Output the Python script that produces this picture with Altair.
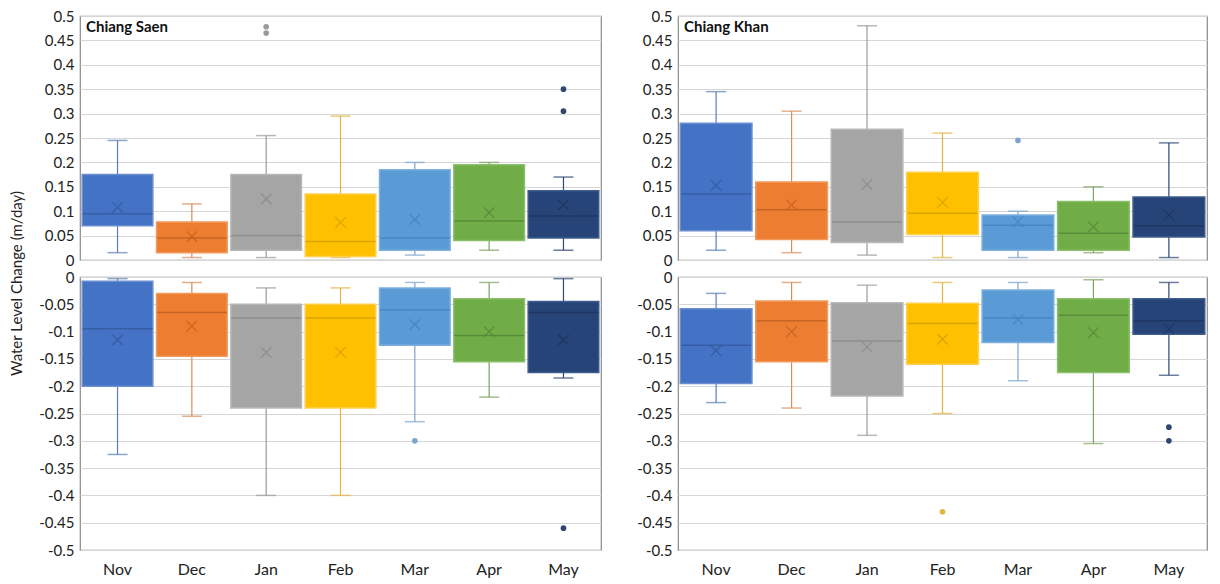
import altair as alt
import pandas as pd

months = ["Nov", "Dec", "Jan", "Feb", "Mar", "Apr", "May"]
box_colors = ["#4472C4", "#ED7D31", "#A5A5A5", "#FFC000", "#5B9BD5", "#70AD47", "#264478"]
edge_colors = ["#6A8ED0", "#F29A5C", "#B8B8B8", "#FFCF4D", "#7DB0DE", "#8BBE6A", "#3F5C8F"]
dark_colors = ["#2F5597", "#B85A1C", "#858585", "#C99A00", "#3F7FBF", "#507F33", "#1B3157"]
whisker_colors = ["#5A7DB5", "#D98E5A", "#9A9A9A", "#E3B440", "#7EA4CC", "#7AA35E", "#2E4670"]

# Chiang Saen - rising (top left)
cs_up_q1 = [0.070, 0.015, 0.020, 0.007, 0.020, 0.040, 0.045]
cs_up_q3 = [0.175, 0.078, 0.175, 0.135, 0.185, 0.195, 0.142]
cs_up_med = [0.095, 0.045, 0.050, 0.038, 0.045, 0.080, 0.090]
cs_up_mean = [0.108, 0.048, 0.125, 0.077, 0.083, 0.097, 0.113]
cs_up_lo = [0.015, 0.005, 0.005, 0.005, 0.010, 0.020, 0.020]
cs_up_hi = [0.245, 0.115, 0.255, 0.295, 0.200, 0.200, 0.170]
cs_up_out_m = ["Jan", "Jan", "May", "May"]
cs_up_out_v = [0.465, 0.478, 0.305, 0.350]

# Chiang Saen - falling (bottom left)
cs_dn_q1 = [-0.200, -0.145, -0.240, -0.240, -0.125, -0.155, -0.175]
cs_dn_q3 = [-0.008, -0.030, -0.050, -0.050, -0.020, -0.040, -0.045]
cs_dn_med = [-0.095, -0.065, -0.075, -0.075, -0.060, -0.107, -0.065]
cs_dn_mean = [-0.115, -0.090, -0.138, -0.138, -0.087, -0.100, -0.115]
cs_dn_lo = [-0.325, -0.255, -0.400, -0.400, -0.265, -0.220, -0.185]
cs_dn_hi = [-0.003, -0.010, -0.020, -0.020, -0.010, -0.010, -0.003]
cs_dn_out_m = ["Mar", "May"]
cs_dn_out_v = [-0.300, -0.460]

# Chiang Khan - rising (top right)
ck_up_q1 = [0.060, 0.042, 0.036, 0.052, 0.020, 0.020, 0.047]
ck_up_q3 = [0.280, 0.160, 0.268, 0.180, 0.092, 0.120, 0.129]
ck_up_med = [0.135, 0.103, 0.078, 0.096, 0.071, 0.055, 0.070]
ck_up_mean = [0.153, 0.113, 0.155, 0.118, 0.078, 0.068, 0.092]
ck_up_lo = [0.020, 0.015, 0.010, 0.005, 0.005, 0.015, 0.005]
ck_up_hi = [0.345, 0.305, 0.480, 0.260, 0.100, 0.150, 0.240]
ck_up_out_m = ["Mar"]
ck_up_out_v = [0.245]

# Chiang Khan - falling (bottom right)
ck_dn_q1 = [-0.195, -0.155, -0.218, -0.160, -0.120, -0.175, -0.105]
ck_dn_q3 = [-0.058, -0.044, -0.047, -0.048, -0.024, -0.040, -0.040]
ck_dn_med = [-0.125, -0.080, -0.117, -0.085, -0.075, -0.070, -0.080]
ck_dn_mean = [-0.135, -0.100, -0.128, -0.114, -0.078, -0.102, -0.095]
ck_dn_lo = [-0.230, -0.240, -0.290, -0.250, -0.190, -0.305, -0.180]
ck_dn_hi = [-0.030, -0.010, -0.015, -0.010, -0.010, -0.005, -0.010]
ck_dn_out_m = ["Feb", "May", "May"]
ck_dn_out_v = [-0.430, -0.275, -0.300]

FONT = "Lato"
up_ticks = [round(i * 0.05, 2) for i in range(11)]
dn_ticks = [round(-i * 0.05, 2) for i in range(11)]


def scale_c(rng):
    return alt.Scale(domain=months, range=rng)


def panel(q1, q3, med, mean, lo, hi, out_m, out_v, domain, ticks,
          width, height, show_x, name=None, ytitle=False):
    df = pd.DataFrame({"m": months, "q1": q1, "q3": q3, "med": med,
                       "mean": mean, "lo": lo, "hi": hi})
    odf = pd.DataFrame({"m": out_m, "v": out_v})
    xscale = alt.Scale(domain=months, paddingInner=0.05, paddingOuter=0.03)
    if show_x:
        xaxis = alt.Axis(title=None, labelAngle=0, domain=False, ticks=False, grid=False,
                         labelFontSize=16, labelPadding=11, labelColor="#222", labelFont=FONT)
    else:
        xaxis = None
    yaxis_kwargs = dict(values=ticks, tickCount=11,
                        labelExpr="round(datum.value*100)/100 + ''",
                        grid=True, gridColor="#d6d6d6", gridWidth=1.2, domain=False,
                        ticks=False, labelFontSize=15, labelPadding=6, labelColor="#222",
                        labelFont=FONT, labelOverlap=False, labelFlush=False)
    if ytitle:
        yaxis = alt.Axis(title="Water Level Change (m/day)", titleFontSize=15,
                         titleFont=FONT, titleFontWeight="normal", titleColor="#222",
                         titleX=-64, titleY=267, titleAngle=270, titleAlign="center",
                         titleBaseline="middle", **yaxis_kwargs)
    else:
        yaxis = alt.Axis(title=None, **yaxis_kwargs)
    yscale = alt.Scale(domain=domain, nice=False, zero=False)

    def Y(field):
        return alt.Y(field, type="quantitative", scale=yscale, axis=yaxis)

    x = alt.X("m:N", scale=xscale, axis=xaxis, sort=months)
    base = alt.Chart(df)
    whisk = base.mark_rule(strokeWidth=1.2).encode(
        x=x, y=Y("lo"), y2="hi:Q",
        color=alt.Color("m:N", scale=scale_c(whisker_colors), legend=None))
    cap_lo = base.mark_tick(size=20, thickness=1.5).encode(
        x=x, y=Y("lo"), color=alt.Color("m:N", scale=scale_c(whisker_colors), legend=None))
    cap_hi = base.mark_tick(size=20, thickness=1.5).encode(
        x=x, y=Y("hi"), color=alt.Color("m:N", scale=scale_c(whisker_colors), legend=None))
    box = base.mark_bar(strokeWidth=1.5).encode(
        x=x, y=Y("q1"), y2="q3:Q",
        color=alt.Color("m:N", scale=scale_c(box_colors), legend=None),
        stroke=alt.Stroke("m:N", scale=scale_c(edge_colors), legend=None))
    median = base.mark_tick(size=70, thickness=1.5).encode(
        x=x, y=Y("med"),
        color=alt.Color("m:N", scale=scale_c(dark_colors), legend=None))
    meanm = base.mark_point(shape="M-1,-1L1,1M-1,1L1,-1", size=110, filled=False,
                            strokeWidth=1.2).encode(
        x=x, y=Y("mean"),
        color=alt.Color("m:N", scale=scale_c(dark_colors), legend=None))
    outl = alt.Chart(odf).mark_circle(size=32, opacity=1).encode(
        x=x, y=Y("v"),
        color=alt.Color("m:N", scale=scale_c(whisker_colors), legend=None))
    layers = [whisk, cap_lo, cap_hi, box, median, meanm, outl]
    if name:
        lab = alt.Chart(pd.DataFrame({"t": [name]})).mark_text(
            align="left", baseline="middle", fontSize=15, fontWeight="bold",
            font=FONT, color="#111").encode(text="t:N", x=alt.value(6), y=alt.value(11))
        layers.append(lab)
    return alt.layer(*layers).resolve_scale(color="independent").properties(
        width=width, height=height)


TL = panel(cs_up_q1, cs_up_q3, cs_up_med, cs_up_mean, cs_up_lo, cs_up_hi,
           cs_up_out_m, cs_up_out_v, [0, 0.5], up_ticks, 521, 244, False,
           name="Chiang Saen", ytitle=True)
TR = panel(ck_up_q1, ck_up_q3, ck_up_med, ck_up_mean, ck_up_lo, ck_up_hi,
           ck_up_out_m, ck_up_out_v, [0, 0.5], up_ticks, 529, 244, False,
           name="Chiang Khan")
BL = panel(cs_dn_q1, cs_dn_q3, cs_dn_med, cs_dn_mean, cs_dn_lo, cs_dn_hi,
           cs_dn_out_m, cs_dn_out_v, [-0.5, 0], dn_ticks, 521, 273, True)
BR = panel(ck_dn_q1, ck_dn_q3, ck_dn_med, ck_dn_mean, ck_dn_lo, ck_dn_hi,
           ck_dn_out_m, ck_dn_out_v, [-0.5, 0], dn_ticks, 529, 273, True)

chart = alt.concat(TL, TR, BL, BR, columns=2, spacing={"row": 17, "column": 77},
                   bounds="flush", align="each").properties(
    padding={"left": 0, "top": 0, "right": 0, "bottom": 0},
    background="white",
).configure_view(stroke="#8a8a8a", strokeWidth=1.2)

chart.save("out.html", embed_options={"renderer": "svg", "actions": False})
